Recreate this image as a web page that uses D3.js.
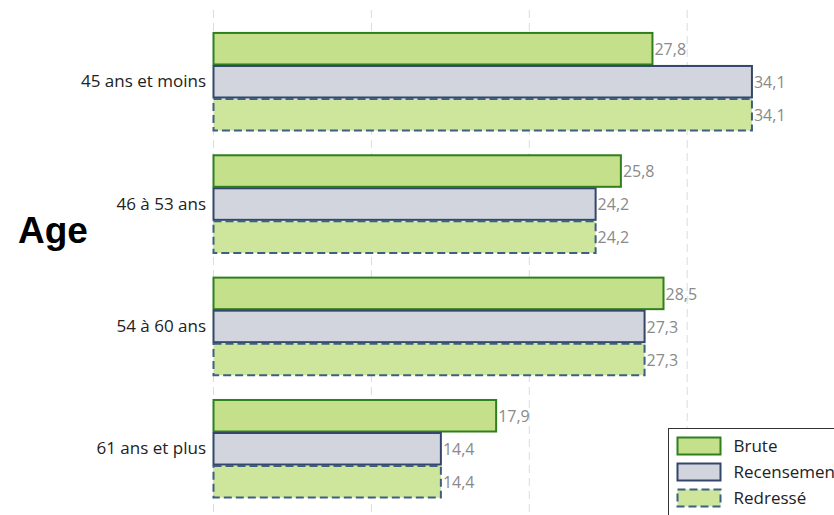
<!DOCTYPE html>
<html><head><meta charset="utf-8">
<script src="https://cdn.jsdelivr.net/npm/d3@7"></script>
<style>body{margin:0;background:#fff}svg{display:block}</style>
</head><body>
<script>
const categories = ["45 ans et moins","46 à 53 ans","54 à 60 ans","61 ans et plus"];
const seriesNames = ["Brute","Recensement","Redressé"];
const brute = [27.8, 25.8, 28.5, 17.9];
const recensement = [34.1, 24.2, 27.3, 14.4];
const redresse = [34.1, 24.2, 27.3, 14.4];
const gridTicks = [0, 10, 20, 30, 40];
const axisTitle = "Age";

const W = 834, H = 515;
const seriesValues = [brute, recensement, redresse];
const styles = [
  {fill:"#c5e08a", stroke:"#2f7f1f", dash:null},
  {fill:"#d2d5de", stroke:"#34466a", dash:null},
  {fill:"#cde69b", stroke:"#3d5f82", dash:"8,4"}
];

const svg = d3.select("body").append("svg").attr("width", W).attr("height", H);
const font = "'Open Sans','Lato',sans-serif";

const x = d3.scaleLinear().domain([0, 40]).range([213.5, 213.5 + 40*15.79]);
const y = d3.scaleBand().domain(categories).range([20.3, 509.7]).paddingInner(0.19).paddingOuter(0.095);
const ySub = d3.scaleBand().domain(seriesNames).range([0, y.bandwidth()]);

// gridlines
svg.append("g").selectAll("line").data(gridTicks).join("line")
  .attr("x1", d => x(d)).attr("x2", d => x(d))
  .attr("y1", 10).attr("y2", H)
  .attr("stroke", "#dcdcdc").attr("stroke-width", 1)
  .attr("stroke-dasharray", "8,5");

// bars
const rows = [];
categories.forEach((c, i) => seriesNames.forEach((s, j) => rows.push({c, s, j, v: seriesValues[j][i]})));

const g = svg.append("g");
g.selectAll("rect").data(rows).join("rect")
  .attr("x", x(0))
  .attr("y", d => y(d.c) + ySub(d.s) + 1)
  .attr("width", d => x(d.v) - x(0))
  .attr("height", ySub.bandwidth() - 1.5)
  .attr("fill", d => styles[d.j].fill)
  .attr("stroke", d => styles[d.j].stroke)
  .attr("stroke-width", 2)
  .attr("stroke-dasharray", d => styles[d.j].dash);

const fmt = v => d3.format(".1f")(v).replace(".", ",");
g.selectAll("text.val").data(rows).join("text").attr("class","val")
  .attr("x", d => x(d.v) + 2)
  .attr("y", d => y(d.c) + ySub(d.s) + ySub.bandwidth()/2 + 1)
  .attr("dy", "0.35em")
  .attr("font-family", font).attr("font-size", 16).attr("fill", "#8a8a8a")
  .text(d => fmt(d.v));

// category labels
svg.append("g").selectAll("text").data(categories).join("text")
  .attr("x", 206).attr("y", d => y(d) + y.bandwidth()/2)
  .attr("dy", "0.35em").attr("text-anchor", "end")
  .attr("font-family", font).attr("font-size", 17).attr("fill", "#222")
  .text(d => d);

// axis title
svg.append("text").attr("x", 18).attr("y", 243)
  .attr("font-family", "'Liberation Sans',Arial,sans-serif").attr("font-weight", "bold")
  .attr("font-size", 37).attr("fill", "#000").text(axisTitle);

// legend
const lg = svg.append("g").attr("transform", "translate(668.5,428.5)");
lg.append("rect").attr("width", 200).attr("height", 90).attr("fill", "#fff").attr("stroke", "#333").attr("stroke-width", 1);
seriesNames.forEach((s, j) => {
  const ly = 9 + j*26;
  lg.append("rect").attr("x", 9).attr("y", ly).attr("width", 43).attr("height", 17)
    .attr("fill", styles[j].fill).attr("stroke", styles[j].stroke).attr("stroke-width", 2)
    .attr("stroke-dasharray", styles[j].dash);
  lg.append("text").attr("x", 65).attr("y", ly + 8.5).attr("dy", "0.35em")
    .attr("font-family", font).attr("font-size", 17).attr("fill", "#222").text(s);
});
</script>
</body></html>
